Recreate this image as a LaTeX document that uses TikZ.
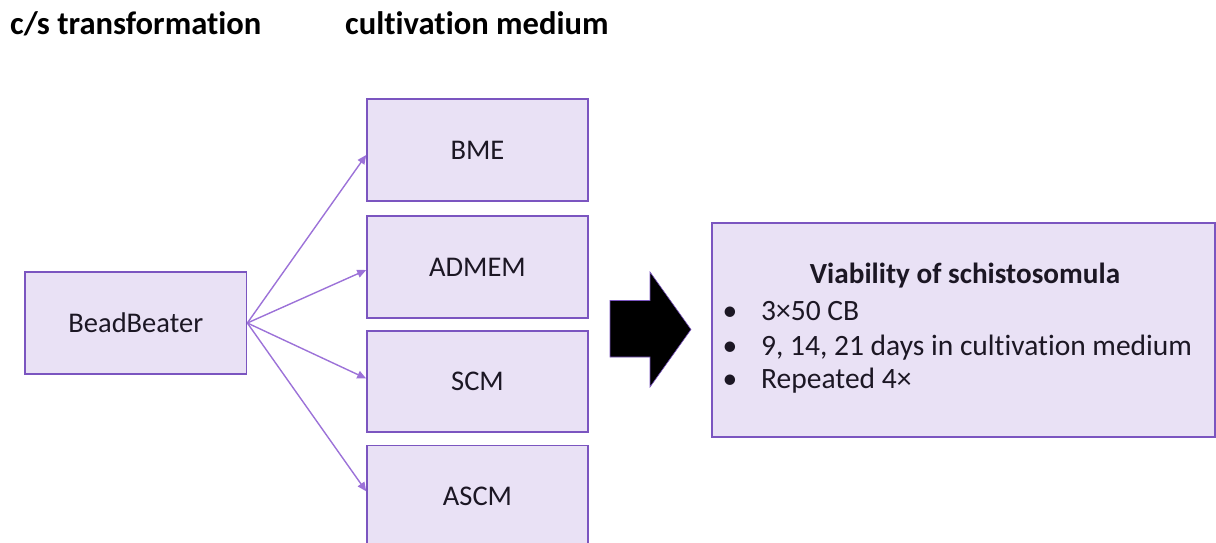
\documentclass[tikz,border=0pt]{standalone}
\usepackage{fontspec}
\setmainfont{Carlito}[Ligatures=NoCommon]
\usepackage{tikz}
\usetikzlibrary{arrows.meta,positioning}
\definecolor{cvLilac}{HTML}{E9E1F5}
\definecolor{cvPurple}{HTML}{7B55C0}
\definecolor{cvLine}{HTML}{9C72D8}
\definecolor{cvInk}{HTML}{1C1724}

\begin{document}
\begin{tikzpicture}[
      x=1pt, y=-1pt,
      font=\fontsize{28.5}{34}\selectfont,
      >={Triangle[length=9pt,width=8pt]},
      medbox/.style={draw=cvPurple, line width=1.6pt, fill=cvLilac, text=cvInk,
                  minimum width=221pt, minimum height=101.5pt, inner sep=0pt, align=center},
      head/.style={anchor=base west, font=\fontsize{32.6}{38}\selectfont\bfseries, text=black},
      feed/.style={->, cvLine, line width=1.4pt},
      item/.style={anchor=base west, text=cvInk, inner sep=0pt, font=\fontsize{29.5}{35}\selectfont},
    ]
    \useasboundingbox (0,0) rectangle (1216,543);

    % ---------- headers ----------
    \node[head, inner sep=0pt] (hcs)  at (10,35)  {c/s transformation};
    \node[head, inner sep=0pt] (hmed) at (345,35) {cultivation medium};

    % ---------- transformation ----------
    \node[medbox, minimum width=221.5pt, minimum height=102pt] (bb) at (135.8,323) {BeadBeater};

    % ---------- media ----------
    \node[medbox] (bme)   at (477.5,150)   {BME};
    \node[medbox] (admem) at (477.5,267)   {ADMEM};
    \node[medbox] (scm)   at (477.5,381.5) {SCM};
    \node[medbox] (ascm)  at (477.5,496.3) {ASCM};

    \draw[feed] (bb.east) -- ([yshift=-5pt]bme.west);
    \draw[feed] (bb.east) -- ([yshift=-3pt]admem.west);
    \draw[feed] (bb.east) -- ([yshift=3pt]scm.west);
    \draw[feed] (bb.east) -- ([yshift=5pt]ascm.west);

    % ---------- big arrow ----------
    \fill[black, draw=cvPurple, line width=0.6pt]
      (610,300.5) -- (650,300.5) -- (650,272) -- (691,329.5) -- (650,387)
      -- (650,357) -- (610,357) -- cycle;

    % ---------- viability ----------
    \node[medbox, minimum width=503pt, minimum height=214pt] (via) at (963.5,329.7) {};
    \node[anchor=base, inner sep=0pt, font=\fontsize{29.2}{35}\selectfont\bfseries, text=cvInk]
      (vt) at (965,283) {Viability of schistosomula};

    \foreach \i/\y/\t in {1/320/{3×50 CB}, 2/355/{9, 14, 21 days in cultivation medium}, 3/388/{Repeated 4×}}{
      \node[item, anchor=base] (dot\i) at (730,\y) {•};
      \node[item] (it\i) at (761,\y) {\t};
    }

  \end{tikzpicture}
\end{document}
